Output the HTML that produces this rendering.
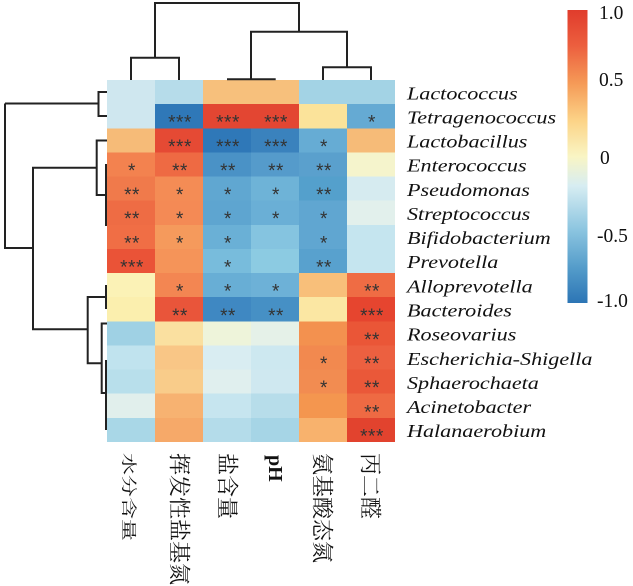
<!DOCTYPE html>
<html><head><meta charset="utf-8">
<style>
html,body{margin:0;padding:0;background:#fff;}
svg{display:block;}
.sp{font-family:"Liberation Serif",serif;font-style:italic;font-size:18px;fill:#111;}
.st{font-family:"Liberation Sans",sans-serif;font-size:19px;fill:#333;text-anchor:middle;letter-spacing:0.5px;}
.cb{font-family:"Liberation Serif",serif;font-size:19.5px;fill:#111;}
.cj{font-family:"Liberation Serif","Noto Serif CJK SC",serif;font-size:22px;fill:#111;}
</style></head>
<body>
<svg width="633" height="586" viewBox="0 0 633 586" xmlns="http://www.w3.org/2000/svg">
<defs>
<linearGradient id="g" x1="0" y1="0" x2="0" y2="1">
<stop offset="0" stop-color="#e03c2c"/>
<stop offset="0.12" stop-color="#ec5e3e"/>
<stop offset="0.25" stop-color="#f59a57"/>
<stop offset="0.38" stop-color="#fcd488"/>
<stop offset="0.5" stop-color="#f9f5c4"/>
<stop offset="0.6" stop-color="#d7edf2"/>
<stop offset="0.75" stop-color="#8cc5e0"/>
<stop offset="0.88" stop-color="#549cca"/>
<stop offset="1" stop-color="#2c75b5"/>
</linearGradient>
</defs>
<rect width="633" height="586" fill="#fff"/>

<g shape-rendering="crispEdges">
<rect x="107" y="80" width="48" height="24.2" fill="#cfe7ef"/>
<rect x="155" y="80" width="48" height="24.2" fill="#b6dcea"/>
<rect x="203" y="80" width="48" height="24.2" fill="#f7c07c"/>
<rect x="251" y="80" width="48" height="24.2" fill="#f7c07c"/>
<rect x="299" y="80" width="48" height="24.2" fill="#a3d3e5"/>
<rect x="347" y="80" width="48" height="24.2" fill="#a3d3e5"/>
<rect x="107" y="104.13" width="48" height="24.2" fill="#cfe7ef"/>
<rect x="155" y="104.13" width="48" height="24.2" fill="#2f78b8"/>
<rect x="203" y="104.13" width="48" height="24.2" fill="#e34632"/>
<rect x="251" y="104.13" width="48" height="24.2" fill="#e34632"/>
<rect x="299" y="104.13" width="48" height="24.2" fill="#fbe39a"/>
<rect x="347" y="104.13" width="48" height="24.2" fill="#65aad3"/>
<rect x="107" y="128.26" width="48" height="24.2" fill="#f6bb78"/>
<rect x="155" y="128.26" width="48" height="24.2" fill="#e54a34"/>
<rect x="203" y="128.26" width="48" height="24.2" fill="#2f78b8"/>
<rect x="251" y="128.26" width="48" height="24.2" fill="#3a82bd"/>
<rect x="299" y="128.26" width="48" height="24.2" fill="#66acd4"/>
<rect x="347" y="128.26" width="48" height="24.2" fill="#f6bb78"/>
<rect x="107" y="152.39" width="48" height="24.2" fill="#f3824f"/>
<rect x="155" y="152.39" width="48" height="24.2" fill="#ee6a43"/>
<rect x="203" y="152.39" width="48" height="24.2" fill="#4a92c6"/>
<rect x="251" y="152.39" width="48" height="24.2" fill="#559bcb"/>
<rect x="299" y="152.39" width="48" height="24.2" fill="#5aa0cd"/>
<rect x="347" y="152.39" width="48" height="24.2" fill="#f5f4cc"/>
<rect x="107" y="176.52" width="48" height="24.2" fill="#f07a4b"/>
<rect x="155" y="176.52" width="48" height="24.2" fill="#f48c55"/>
<rect x="203" y="176.52" width="48" height="24.2" fill="#60a7d1"/>
<rect x="251" y="176.52" width="48" height="24.2" fill="#6eb3d7"/>
<rect x="299" y="176.52" width="48" height="24.2" fill="#54a0cc"/>
<rect x="347" y="176.52" width="48" height="24.2" fill="#d6ebf0"/>
<rect x="107" y="200.65" width="48" height="24.2" fill="#ee6c44"/>
<rect x="155" y="200.65" width="48" height="24.2" fill="#f48a55"/>
<rect x="203" y="200.65" width="48" height="24.2" fill="#5ea5d0"/>
<rect x="251" y="200.65" width="48" height="24.2" fill="#6aafd6"/>
<rect x="299" y="200.65" width="48" height="24.2" fill="#60a6d1"/>
<rect x="347" y="200.65" width="48" height="24.2" fill="#e2f0ec"/>
<rect x="107" y="224.78" width="48" height="24.2" fill="#f06e45"/>
<rect x="155" y="224.78" width="48" height="24.2" fill="#f59a5c"/>
<rect x="203" y="224.78" width="48" height="24.2" fill="#6ab0d6"/>
<rect x="251" y="224.78" width="48" height="24.2" fill="#85c4e0"/>
<rect x="299" y="224.78" width="48" height="24.2" fill="#60a6d1"/>
<rect x="347" y="224.78" width="48" height="24.2" fill="#c5e5ef"/>
<rect x="107" y="248.91" width="48" height="24.2" fill="#ea5337"/>
<rect x="155" y="248.91" width="48" height="24.2" fill="#f59459"/>
<rect x="203" y="248.91" width="48" height="24.2" fill="#78bcdc"/>
<rect x="251" y="248.91" width="48" height="24.2" fill="#8ccbe2"/>
<rect x="299" y="248.91" width="48" height="24.2" fill="#58a1ce"/>
<rect x="347" y="248.91" width="48" height="24.2" fill="#c5e5ef"/>
<rect x="107" y="273.04" width="48" height="24.2" fill="#fbf2b6"/>
<rect x="155" y="273.04" width="48" height="24.2" fill="#f38652"/>
<rect x="203" y="273.04" width="48" height="24.2" fill="#68aed5"/>
<rect x="251" y="273.04" width="48" height="24.2" fill="#6db1d7"/>
<rect x="299" y="273.04" width="48" height="24.2" fill="#f8bf7a"/>
<rect x="347" y="273.04" width="48" height="24.2" fill="#ef6c44"/>
<rect x="107" y="297.17" width="48" height="24.2" fill="#fbefae"/>
<rect x="155" y="297.17" width="48" height="24.2" fill="#e9553a"/>
<rect x="203" y="297.17" width="48" height="24.2" fill="#3f88c2"/>
<rect x="251" y="297.17" width="48" height="24.2" fill="#4690c5"/>
<rect x="299" y="297.17" width="48" height="24.2" fill="#fbe7a3"/>
<rect x="347" y="297.17" width="48" height="24.2" fill="#e6452f"/>
<rect x="107" y="321.3" width="48" height="24.2" fill="#9fd1e4"/>
<rect x="155" y="321.3" width="48" height="24.2" fill="#fae0a0"/>
<rect x="203" y="321.3" width="48" height="24.2" fill="#eef4da"/>
<rect x="251" y="321.3" width="48" height="24.2" fill="#e5f1e8"/>
<rect x="299" y="321.3" width="48" height="24.2" fill="#f3914f"/>
<rect x="347" y="321.3" width="48" height="24.2" fill="#ea5637"/>
<rect x="107" y="345.43" width="48" height="24.2" fill="#c0e3ee"/>
<rect x="155" y="345.43" width="48" height="24.2" fill="#f9c686"/>
<rect x="203" y="345.43" width="48" height="24.2" fill="#d9edf2"/>
<rect x="251" y="345.43" width="48" height="24.2" fill="#cde8f0"/>
<rect x="299" y="345.43" width="48" height="24.2" fill="#f2894f"/>
<rect x="347" y="345.43" width="48" height="24.2" fill="#ec6040"/>
<rect x="107" y="369.56" width="48" height="24.2" fill="#b8dfeb"/>
<rect x="155" y="369.56" width="48" height="24.2" fill="#f9cc8a"/>
<rect x="203" y="369.56" width="48" height="24.2" fill="#e0efee"/>
<rect x="251" y="369.56" width="48" height="24.2" fill="#cfe8f0"/>
<rect x="299" y="369.56" width="48" height="24.2" fill="#f28c51"/>
<rect x="347" y="369.56" width="48" height="24.2" fill="#ea5839"/>
<rect x="107" y="393.69" width="48" height="24.2" fill="#e1efec"/>
<rect x="155" y="393.69" width="48" height="24.2" fill="#f7b271"/>
<rect x="203" y="393.69" width="48" height="24.2" fill="#c6e5ef"/>
<rect x="251" y="393.69" width="48" height="24.2" fill="#b7ddea"/>
<rect x="299" y="393.69" width="48" height="24.2" fill="#f4964f"/>
<rect x="347" y="393.69" width="48" height="24.2" fill="#ee6a43"/>
<rect x="107" y="417.82" width="48" height="24.2" fill="#a9d7e7"/>
<rect x="155" y="417.82" width="48" height="24.2" fill="#f6a969"/>
<rect x="203" y="417.82" width="48" height="24.2" fill="#b4dcea"/>
<rect x="251" y="417.82" width="48" height="24.2" fill="#a6d5e6"/>
<rect x="299" y="417.82" width="48" height="24.2" fill="#f8b26d"/>
<rect x="347" y="417.82" width="48" height="24.2" fill="#e2432e"/>
</g>

<g>
<text class="st" x="180" y="128.7">***</text>
<text class="st" x="228" y="128.7">***</text>
<text class="st" x="276" y="128.7">***</text>
<text class="st" x="372" y="128.7">*</text>

<text class="st" x="180" y="152.8">***</text>
<text class="st" x="228" y="152.8">***</text>
<text class="st" x="276" y="152.8">***</text>
<text class="st" x="324" y="152.8">*</text>

<text class="st" x="132" y="177">*</text>
<text class="st" x="180" y="177">**</text>
<text class="st" x="228" y="177">**</text>
<text class="st" x="276" y="177">**</text>
<text class="st" x="324" y="177">**</text>

<text class="st" x="132" y="201.1">**</text>
<text class="st" x="180" y="201.1">*</text>
<text class="st" x="228" y="201.1">*</text>
<text class="st" x="276" y="201.1">*</text>
<text class="st" x="324" y="201.1">**</text>

<text class="st" x="132" y="225.2">**</text>
<text class="st" x="180" y="225.2">*</text>
<text class="st" x="228" y="225.2">*</text>
<text class="st" x="276" y="225.2">*</text>
<text class="st" x="324" y="225.2">*</text>

<text class="st" x="132" y="249.4">**</text>
<text class="st" x="180" y="249.4">*</text>
<text class="st" x="228" y="249.4">*</text>
<text class="st" x="324" y="249.4">*</text>

<text class="st" x="132" y="273.5">***</text>
<text class="st" x="228" y="273.5">*</text>
<text class="st" x="324" y="273.5">**</text>

<text class="st" x="180" y="297.7">*</text>
<text class="st" x="228" y="297.7">*</text>
<text class="st" x="276" y="297.7">*</text>
<text class="st" x="372" y="297.7">**</text>

<text class="st" x="180" y="321.8">**</text>
<text class="st" x="228" y="321.8">**</text>
<text class="st" x="276" y="321.8">**</text>
<text class="st" x="372" y="321.8">***</text>

<text class="st" x="372" y="345.9">**</text>

<text class="st" x="324" y="370.1">*</text>
<text class="st" x="372" y="370.1">**</text>

<text class="st" x="324" y="394.2">*</text>
<text class="st" x="372" y="394.2">**</text>

<text class="st" x="372" y="418.3">**</text>

<text class="st" x="372" y="442.5">***</text>
</g>

<g fill="none" stroke="#222" stroke-width="2">
<path d="M131,80 V57.7 H179 V80"/>
<path d="M155,57.7 V3 H299 V31.7"/>
<path d="M227,79.3 H275.7"/>
<path d="M251,79.3 V31.7 H347 V67.3"/>
<path d="M323,80 V67.3 H371 V80"/>
</g>

<g fill="none" stroke="#222" stroke-width="2">
<path d="M5,103.5 H98.5"/>
<path d="M107,92 H98.5 V116 H107"/>
<path d="M5,103.5 V248 H33"/>
<path d="M96.7,167.7 H33 V329.3 H87.7"/>
<path d="M107,140.5 H96.7 V195 H106"/>
<path d="M106,164 V226"/>
<path d="M106,297 H87.7 V363.3 H101.7"/>
<path d="M106,285 V309"/>
<path d="M107,323.5 H101.7 V393 H106"/>
<path d="M106,360 V430"/>
</g>

<g>
<text class="sp" transform="translate(407,99.3) scale(1.23,1)">Lactococcus</text>
<text class="sp" transform="translate(407,123.4) scale(1.23,1)">Tetragenococcus</text>
<text class="sp" transform="translate(407,147.5) scale(1.23,1)">Lactobacillus</text>
<text class="sp" transform="translate(407,171.7) scale(1.23,1)">Enterococcus</text>
<text class="sp" transform="translate(407,195.8) scale(1.23,1)">Pseudomonas</text>
<text class="sp" transform="translate(407,219.9) scale(1.23,1)">Streptococcus</text>
<text class="sp" transform="translate(407,244.1) scale(1.23,1)">Bifidobacterium</text>
<text class="sp" transform="translate(407,268.2) scale(1.23,1)">Prevotella</text>
<text class="sp" transform="translate(407,292.4) scale(1.23,1)">Alloprevotella</text>
<text class="sp" transform="translate(407,316.5) scale(1.23,1)">Bacteroides</text>
<text class="sp" transform="translate(407,340.6) scale(1.23,1)">Roseovarius</text>
<text class="sp" transform="translate(407,364.8) scale(1.23,1)">Escherichia-Shigella</text>
<text class="sp" transform="translate(407,388.9) scale(1.23,1)">Sphaerochaeta</text>
<text class="sp" transform="translate(407,413) scale(1.23,1)">Acinetobacter</text>
<text class="sp" transform="translate(407,437.2) scale(1.23,1)">Halanaerobium</text>
</g>

<rect x="567.5" y="10" width="20" height="293" fill="url(#g)"/>
<text class="cb" x="599" y="19">1.0</text>
<text class="cb" x="599" y="86">0.5</text>
<text class="cb" x="600" y="164">0</text>
<text class="cb" x="597" y="242">-0.5</text>
<text class="cb" x="597" y="307">-1.0</text>

<text class="cj" dominant-baseline="central" transform="translate(128,453) rotate(90) scale(1,0.7)">水分含量</text>
<text class="cj" dominant-baseline="central" transform="translate(179,453) rotate(90)">挥发性盐基氮</text>
<text class="cj" dominant-baseline="central" transform="translate(227,453) rotate(90)">盐含量</text>
<text dominant-baseline="central" transform="translate(275,455) rotate(90)" style="font-family:'Liberation Serif',serif;font-weight:bold;font-size:20px;fill:#111;">pH</text>
<text class="cj" dominant-baseline="central" transform="translate(322,453) rotate(90)">氨基酸态氮</text>
<text class="cj" dominant-baseline="central" transform="translate(370,453) rotate(90)">丙二醛</text>
</svg>
</body></html>
